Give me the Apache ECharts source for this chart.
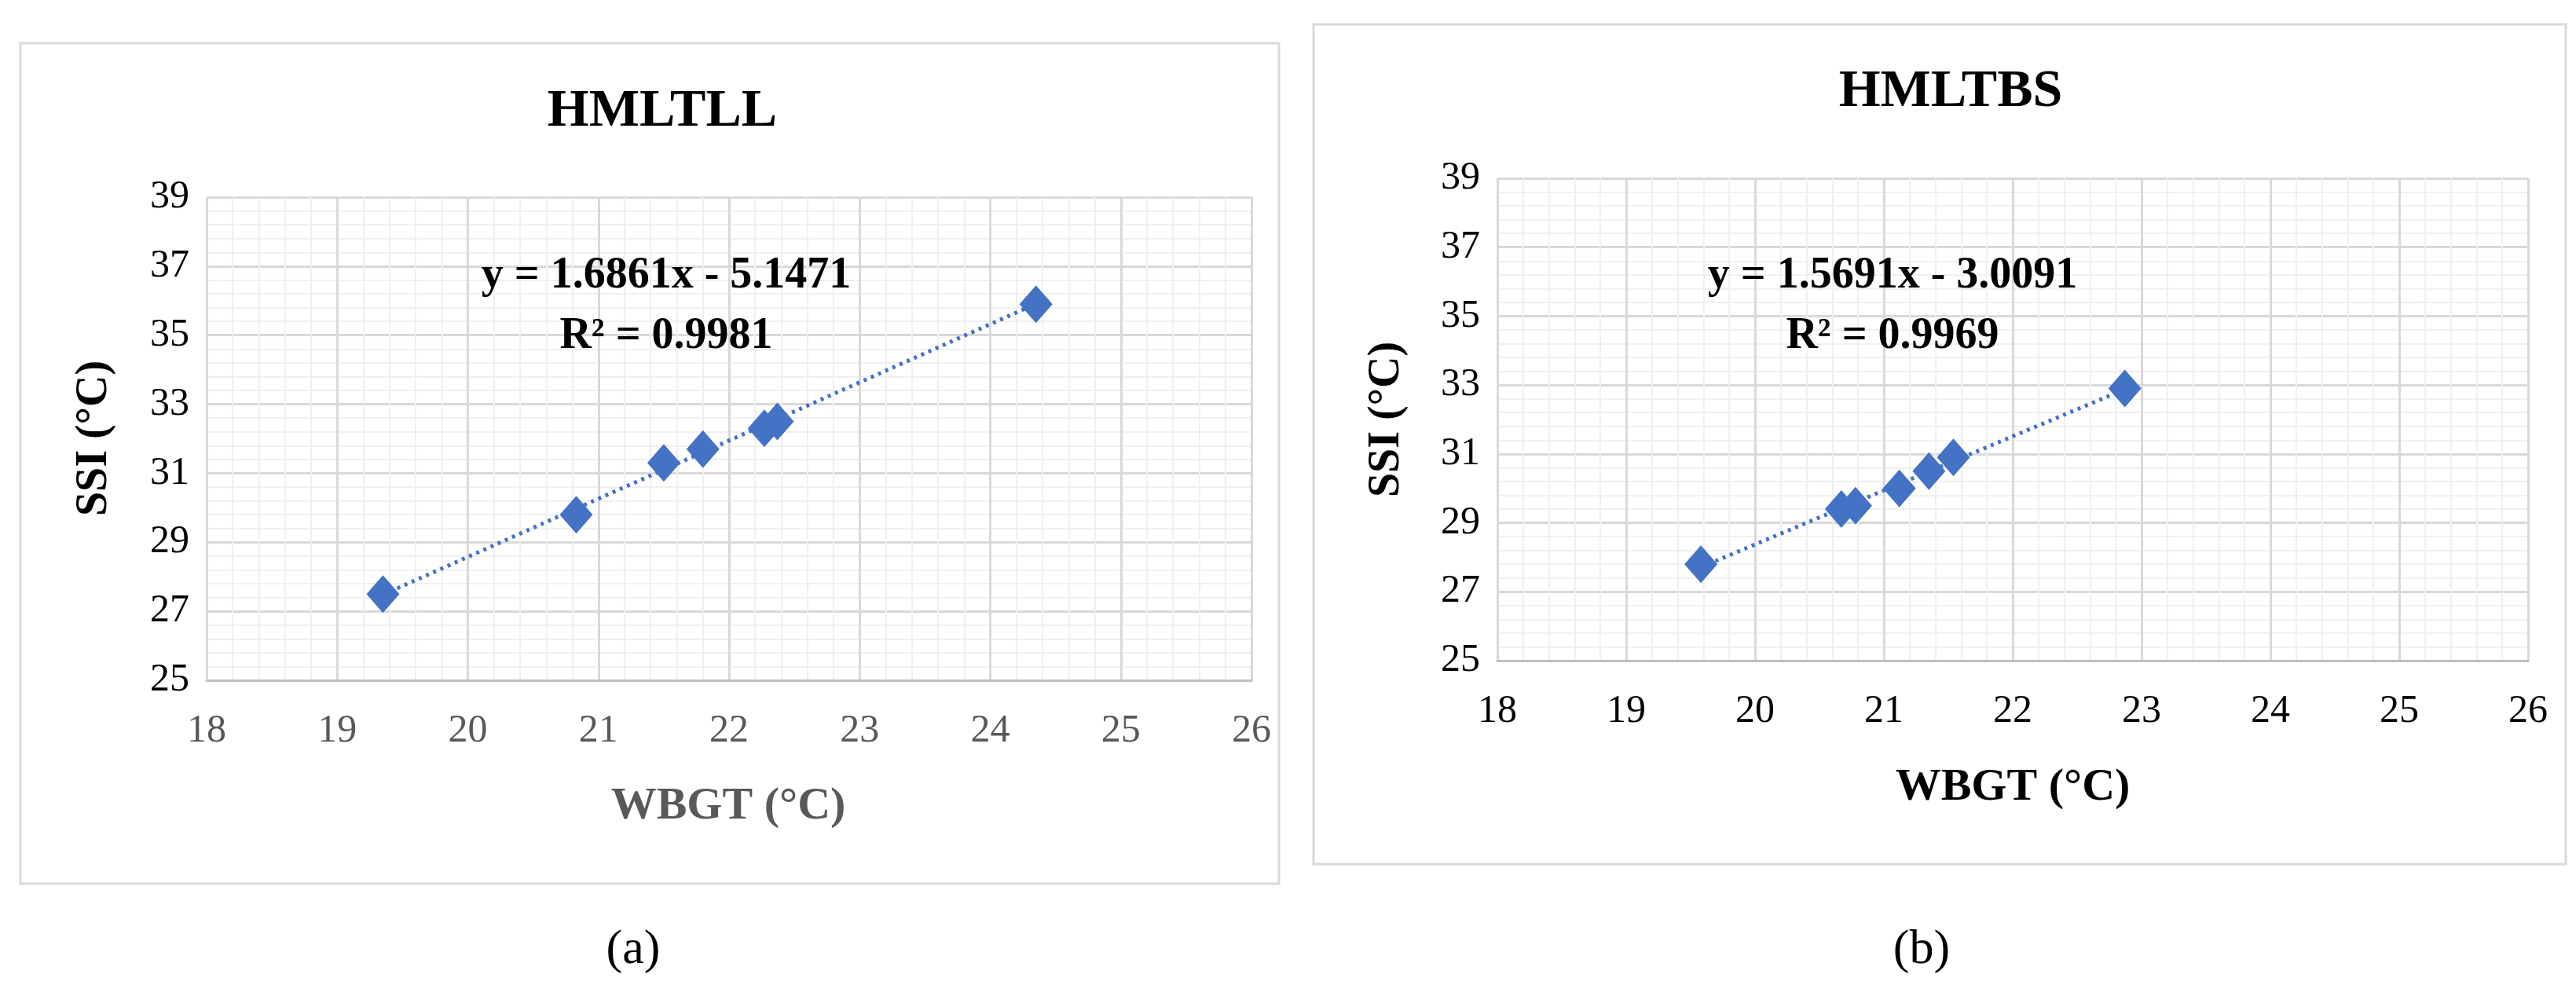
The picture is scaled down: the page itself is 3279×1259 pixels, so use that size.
<!DOCTYPE html>
<html><head><meta charset="utf-8">
<script src="https://cdn.jsdelivr.net/npm/echarts@6/dist/echarts.min.js"></script>
<style>html,body{margin:0;padding:0;background:#fff}#c{width:3279px;height:1259px}</style>
</head><body><div id="c"></div>
<script>
const xTicks = [18,19,20,21,22,23,24,25,26];
const yTicks = [25,27,29,31,33,35,37,39];
const wbgtA = [19.35,20.83,21.5,21.8,22.27,22.37,24.35];
const ssiA  = [27.5,29.8,31.3,31.7,32.3,32.5,35.9];
const wbgtB = [19.58,20.67,20.78,21.12,21.35,21.54,22.87];
const ssiB  = [27.8,29.4,29.5,30.0,30.5,30.9,32.9];
const fitA = {slope:1.6861, intercept:-5.1471, r2:'0.9981', title:'HMLTLL'};
const fitB = {slope:1.5691, intercept:-3.0091, r2:'0.9969', title:'HMLTBS'};

const F = 'Liberation Serif';
const blue = '#4472C4';
function trend(xs, f){const a=Math.min(...xs),b=Math.max(...xs);return [[a,f.slope*a+f.intercept],[b,f.slope*b+f.intercept]];}
function xAx(i, col){return {type:'value',gridIndex:i,min:xTicks[0],max:xTicks[xTicks.length-1],interval:1,
  axisLine:{show:true,lineStyle:{color:'#bfbfbf',width:3}},axisTick:{show:false},
  axisLabel:{color:col,fontFamily:F,fontSize:50,margin:40},
  splitLine:{show:true,lineStyle:{color:'#d9d9d9',width:3}},
  minorTick:{show:false,splitNumber:5},minorSplitLine:{show:true,lineStyle:{color:'#f0f0f0',width:2}}};}
function yAx(i){return {type:'value',gridIndex:i,min:yTicks[0],max:yTicks[yTicks.length-1],interval:2,
  axisLine:{show:false},axisTick:{show:false},
  axisLabel:{color:'#000',fontFamily:F,fontSize:50,margin:22},
  splitLine:{show:true,lineStyle:{color:'#d9d9d9',width:3}},
  minorTick:{show:false,splitNumber:5},minorSplitLine:{show:true,lineStyle:{color:'#f0f0f0',width:2}}};}
function eq(f){return 'y = '+f.slope.toFixed(4)+'x - '+Math.abs(f.intercept).toFixed(4);}
const txt=(x,y,t,o,rot)=>({type:'text',x:x,y:y,rotation:rot||0,z:10,style:Object.assign({text:t,font:undefined,fontFamily:F,fill:'#000',stroke:null,lineWidth:0,align:'center',verticalAlign:'middle'},o)});
const chart = echarts.init(document.getElementById('c'));
chart.setOption({
  animation:false,
  grid:[{left:263,top:251,width:1330,height:615},{left:1906,top:227,width:1312,height:614}],
  xAxis:[xAx(0,'#595959'),xAx(1,'#000')],
  yAxis:[yAx(0),yAx(1)],
  series:[
    {type:'line',xAxisIndex:0,yAxisIndex:0,data:trend(wbgtA,fitA),symbol:'none',lineStyle:{color:blue,width:5,type:[4,6]},z:2},
    {type:'scatter',xAxisIndex:0,yAxisIndex:0,data:wbgtA.map((x,i)=>[x,ssiA[i]]),symbol:'diamond',symbolSize:[42,48],itemStyle:{color:blue,opacity:1},z:3},
    {type:'line',xAxisIndex:1,yAxisIndex:1,data:trend(wbgtB,fitB),symbol:'none',lineStyle:{color:blue,width:5,type:[4,6]},z:2},
    {type:'scatter',xAxisIndex:1,yAxisIndex:1,data:wbgtB.map((x,i)=>[x,ssiB[i]]),symbol:'diamond',symbolSize:[42,48],itemStyle:{color:blue,opacity:1},z:3}
  ],
  graphic:[
    {type:'rect',shape:{x:26,y:55,width:1602,height:1070},style:{fill:'none',stroke:'#d9d9d9',lineWidth:3},z:-1},
    {type:'rect',shape:{x:1672,y:31,width:1594,height:1069},style:{fill:'none',stroke:'#d9d9d9',lineWidth:3},z:-1},
    txt(843,142,fitA.title,{fontSize:68,fontWeight:'bold'}),
    txt(2483,117,fitB.title,{fontSize:68,fontWeight:'bold'}),
    txt(848,352,eq(fitA),{fontSize:56,fontWeight:'bold'}),
    txt(848,429,'R² = '+fitA.r2,{fontSize:56,fontWeight:'bold'}),
    txt(2409,352,eq(fitB),{fontSize:56,fontWeight:'bold'}),
    txt(2409,429,'R² = '+fitB.r2,{fontSize:56,fontWeight:'bold'}),
    txt(927,1027,'WBGT (°C)',{fontSize:58,fontWeight:'bold',fill:'#595959'}),
    txt(2562,1003,'WBGT (°C)',{fontSize:58,fontWeight:'bold'}),
    txt(121,558,'SSI (°C)',{fontSize:56,fontWeight:'bold'},Math.PI/2),
    txt(1766,534,'SSI (°C)',{fontSize:56,fontWeight:'bold'},Math.PI/2),
    txt(806,1210,'(a)',{fontSize:62}),
    txt(2446,1210,'(b)',{fontSize:62})
  ]
});
</script></body></html>
